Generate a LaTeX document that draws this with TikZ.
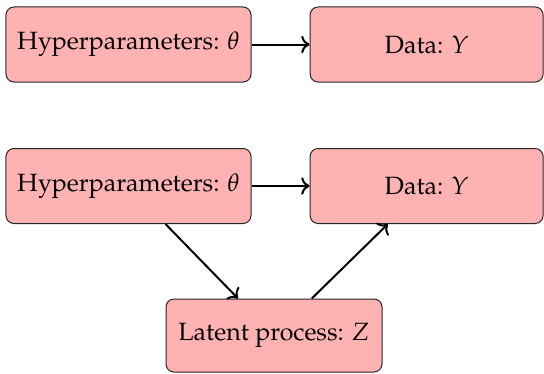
\documentclass[tikz,border=0pt]{standalone}
\usepackage[T1]{fontenc}
\usepackage{mathpazo}
\usetikzlibrary{arrows.meta}
\begin{document}
\begin{tikzpicture}[x=0.4pt,y=-0.4pt,
  box/.style={draw=black!85, line width=0.4pt, fill=red!30, rounded corners=3.2pt,
    minimum height=30pt, inner sep=2pt},
  link/.style={->, thick}]
\useasboundingbox (0,0) rectangle (544,373);
% simple model
\node[box, minimum width=98pt]   (h1) at (128.5,44.5) {Hyperparameters: $\theta$};
\node[box, minimum width=93.2pt] (d1) at (426.6,44.5) {Data: $Y$};
\draw[link] (h1) -- (d1);
% model with latent process
\node[box, minimum width=98pt]   (h2) at (128.5,186) {Hyperparameters: $\theta$};
\node[box, minimum width=93.2pt] (d2) at (426.6,186) {Data: $Y$};
\node[box, minimum width=86.4pt, minimum height=29.2pt] (z) at (274,335.5) {Latent process: $Z$};
\draw[link] (h2) -- (d2);
\draw[link] (h2) -- (z);
\draw[link] (z) -- (d2);
\end{tikzpicture}
\end{document}
